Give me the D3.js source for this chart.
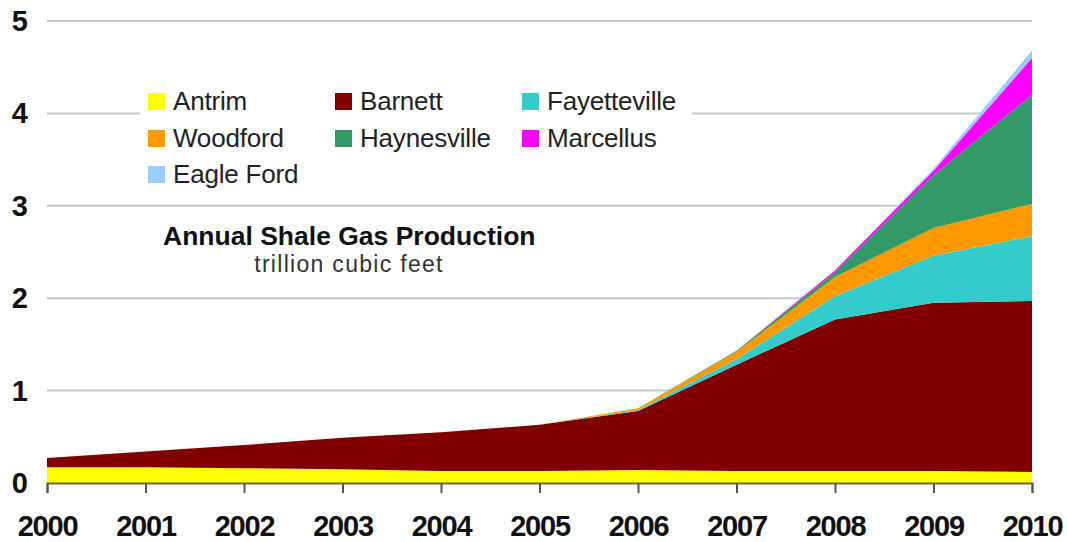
<!DOCTYPE html>
<html>
<head>
<meta charset="utf-8">
<script src="https://cdn.jsdelivr.net/npm/d3@7"></script>
<style>
  body { margin: 0; background: #fff; }
  svg { display: block; font-family: "Liberation Sans", Arial, sans-serif; }
</style>
</head>
<body>
<svg id="chart" width="1067" height="542"></svg>
<script>
// years on the x axis
let years = [2000, 2001, 2002, 2003, 2004, 2005, 2006, 2007, 2008, 2009, 2010];

// production by play, trillion cubic feet
let antrim       = [0.17, 0.17, 0.16, 0.15, 0.13, 0.13, 0.14, 0.13, 0.13, 0.13, 0.12];
let barnett      = [0.10, 0.17, 0.25, 0.34, 0.42, 0.50, 0.64, 1.15, 1.64, 1.82, 1.85];
let fayetteville = [0, 0, 0, 0, 0, 0, 0.01, 0.06, 0.25, 0.51, 0.70];
let woodford     = [0, 0, 0, 0, 0, 0, 0.02, 0.08, 0.21, 0.30, 0.35];
let haynesville  = [0, 0, 0, 0, 0, 0, 0, 0.01, 0.05, 0.57, 1.18];
let marcellus    = [0, 0, 0, 0, 0, 0, 0, 0, 0.02, 0.05, 0.40];
let eagleFord    = [0, 0, 0, 0, 0, 0, 0, 0, 0, 0.02, 0.08];

let seriesNames = ["Antrim", "Barnett", "Fayetteville", "Woodford", "Haynesville", "Marcellus", "Eagle Ford"];
let seriesValues = [antrim, barnett, fayetteville, woodford, haynesville, marcellus, eagleFord];
let seriesColors = ["#ffff00", "#800000", "#33cccc", "#ff9900", "#339966", "#ff00ff", "#99ccff"];

let yTicks = [0, 1, 2, 3, 4, 5];

let svg = d3.select("#chart");

let x = d3.scaleLinear().domain([2000, 2010]).range([47, 1032]);
let y = d3.scaleLinear().domain([0, 5]).range([483, 21]);

let rows = years.map((yr, i) => {
    let r = {year: yr};
    seriesNames.forEach((n, k) => r[n] = seriesValues[k][i]);
    return r;
});

let stacked = d3.stack().keys(seriesNames)(rows);

// gridlines
svg.append("g")
    .selectAll("line")
    .data(yTicks.filter(d => d > 0))
    .enter().append("line")
    .attr("x1", x(2000))
    .attr("x2", x(2010))
    .attr("y1", d => y(d))
    .attr("y2", d => y(d))
    .attr("stroke", "#c8c8c8")
    .attr("stroke-width", 2);

// legend background hides the gridline behind it
svg.append("rect")
    .attr("x", 140).attr("y", 84)
    .attr("width", 552).attr("height", 108)
    .attr("fill", "#fff");

let area = d3.area()
    .x(d => x(d.data.year))
    .y0(d => y(d[0]))
    .y1(d => y(d[1]));

svg.append("g")
    .selectAll("path")
    .data(stacked)
    .enter().append("path")
    .attr("d", area)
    .attr("fill", (d, i) => seriesColors[i]);

// x axis
let xAxis = d3.axisBottom(x)
    .tickValues(years)
    .tickFormat(d3.format("d"))
    .tickSize(10)
    .tickPadding(22);

let gx = svg.append("g")
    .attr("transform", "translate(0," + y(0) + ")")
    .call(xAxis);
gx.select(".domain").attr("stroke", "#666").attr("stroke-width", 2);
gx.selectAll(".tick line").attr("stroke", "#555").attr("stroke-width", 2);
gx.selectAll(".tick text")
    .attr("fill", "#111")
    .style("font-size", "29px")
    .style("font-weight", "bold")
    .style("letter-spacing", "-1.2px");

// y labels
svg.append("g")
    .selectAll("text")
    .data(yTicks)
    .enter().append("text")
    .attr("x", 28)
    .attr("y", d => y(d) + 10)
    .attr("text-anchor", "end")
    .attr("fill", "#111")
    .style("font-size", "29px")
    .style("font-weight", "bold")
    .text(d => d);

// legend
let legendPos = [[148, 102], [335, 102], [522, 102], [148, 139], [335, 139], [522, 139], [148, 175]];

let lg = svg.append("g")
    .selectAll("g")
    .data(seriesNames)
    .enter().append("g")
    .attr("transform", (d, i) => "translate(" + legendPos[i][0] + "," + legendPos[i][1] + ")");

lg.append("rect")
    .attr("x", 0).attr("y", -9)
    .attr("width", 17).attr("height", 17)
    .attr("fill", (d, i) => seriesColors[i]);

lg.append("text")
    .attr("x", 25)
    .attr("y", 8)
    .attr("fill", "#222")
    .style("font-size", "26px")
    .style("letter-spacing", "-0.2px")
    .text(d => d);

// title
svg.append("text")
    .attr("x", 163).attr("y", 245)
    .attr("fill", "#111")
    .style("font-size", "26.5px")
    .style("font-weight", "bold")
    .text("Annual Shale Gas Production");

svg.append("text")
    .attr("x", 349).attr("y", 272)
    .attr("text-anchor", "middle")
    .attr("fill", "#333")
    .style("font-size", "23px")
    .style("letter-spacing", "1.3px")
    .text("trillion cubic feet");
</script>
</body>
</html>
